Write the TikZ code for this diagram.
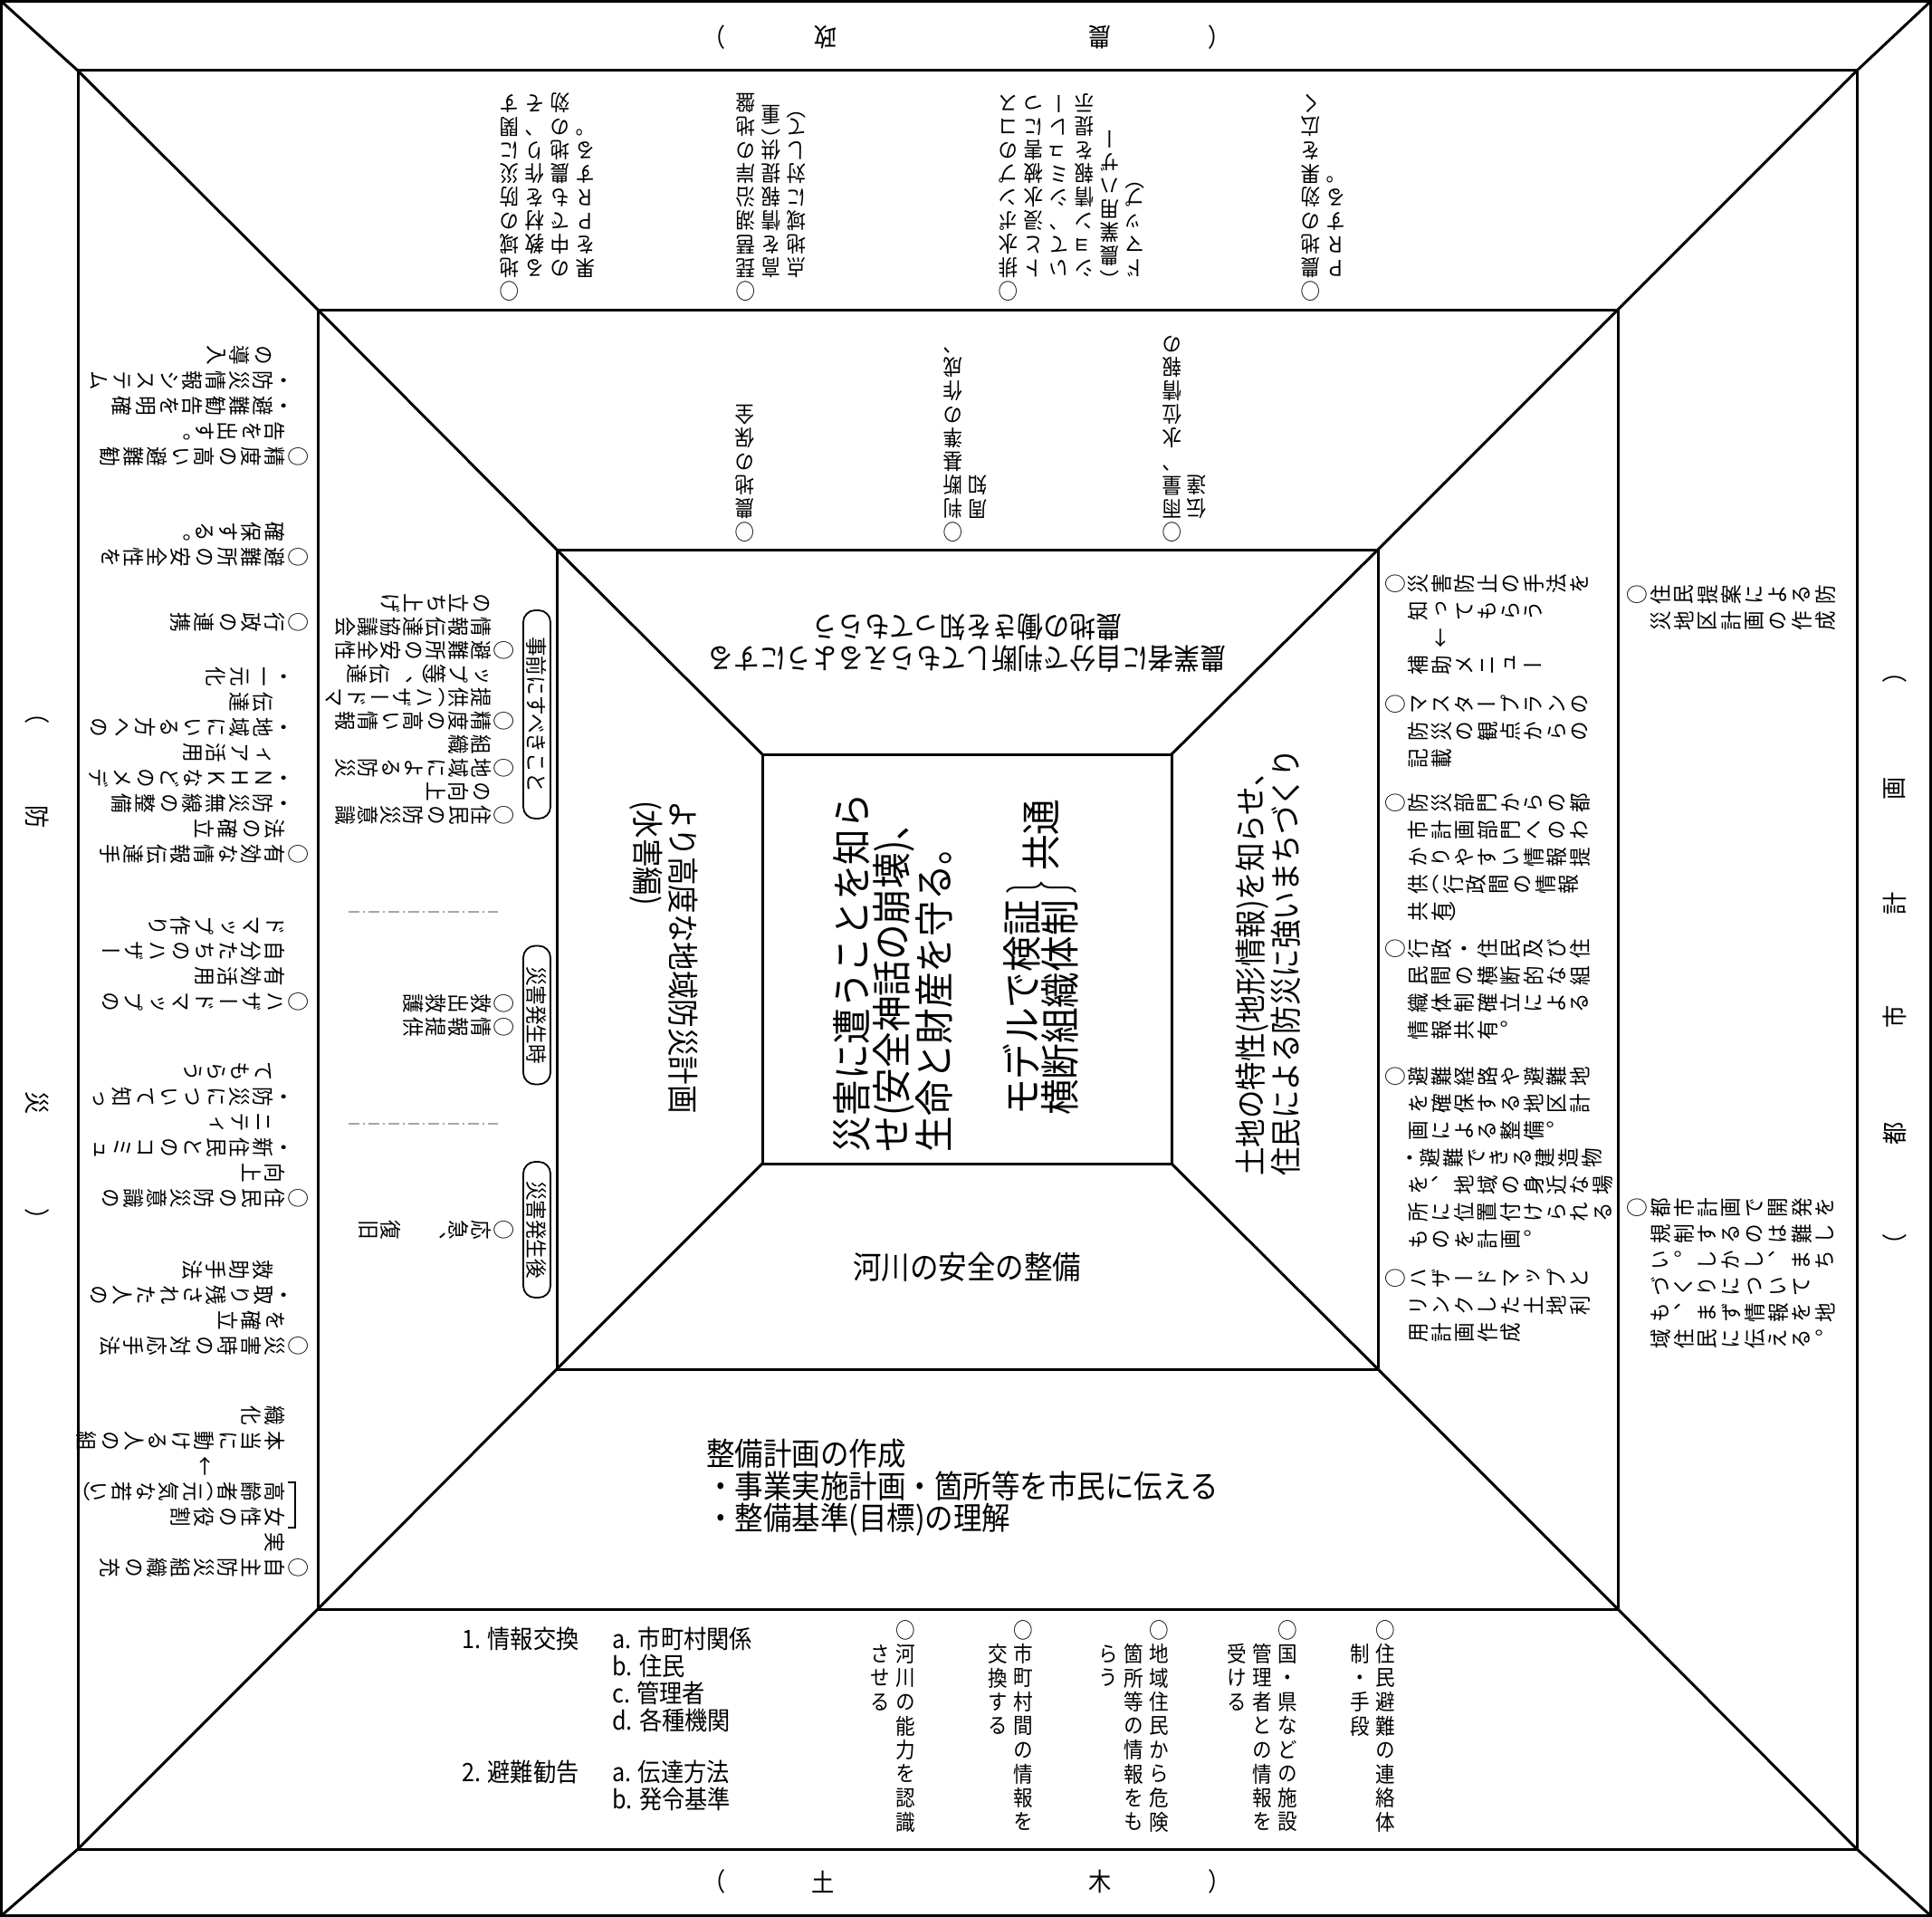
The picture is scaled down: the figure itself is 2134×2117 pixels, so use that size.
\documentclass[tikz,border=0pt]{standalone}
\usepackage{fontspec}
\usetikzlibrary{decorations.pathreplacing}
\newfontfamily\jp[FakeStretch=0.9]{Noto Sans CJK JP}
\newfontfamily\jpv[FakeStretch=0.9,RawFeature={+vert}]{Noto Sans CJK JP}
\newdimen\tp \newdimen\tw
\tp=26pt \tw=28pt
\ExplSyntaxOn
\cs_new_protected:Npn \tate_full:n #1
  {
    \hbox_to_wd:nn { \tw }
      { \hss \vbox_to_ht:nn { \tp } { \vss \hbox:n { \vphantom{国} #1 } \vss } \hss }
  }
\cs_new_protected:Npn \tate_half:n #1
  {
    \hbox_to_wd:nn { \tw }
      { \hss \vbox_to_ht:nn { 0.5\tp } { \vss \hbox:n { #1 } \vss } \hss }
  }
\cs_new_protected:Npn \tate_blank:
  { \hbox_to_wd:nn { \tw } { \vbox_to_ht:nn { 0.5\tp } { \vss } \hss } }
\NewDocumentCommand \tcol { m }
  {
    \vtop
      {
        \offinterlineskip
        \hbox:n { }
        \tl_map_inline:nn { #1 }
          {
            \str_case:nnF { ##1 }
              {
                { ･ } { \tate_half:n { ・ } }
                { （ } { \tate_half:n { （ } }
                { ） } { \tate_half:n { ） } }
                { ＿ } { \tate_blank: }
              }
              { \tate_full:n { ##1 } }
          }
      }
  }
\NewDocumentCommand \tblock { m }
  {
    \seq_set_split:Nnn \l_tmpa_seq { | } { #1 }
    \seq_reverse:N \l_tmpa_seq
    \hbox:n { \seq_map_inline:Nn \l_tmpa_seq { \tcol { ##1 } } }
  }
\ExplSyntaxOff
\newcommand\TB[3]{\tp=#1pt\relax\tw=#2pt\relax\tblock{#3}}
\tikzset{
  ln/.style={line width=3pt},
  tate/.style={inner sep=0pt, font=\jpv\fontsize{24}{24}\selectfont},
  inv/.style={anchor=north east, rotate=180},
  upr/.style={anchor=north east},
  cw/.style={anchor=north east, rotate=-90},
  ccw/.style={anchor=north east, rotate=90},
  lbl/.style={inner sep=0pt, font=\jp\fontsize{28}{28}\selectfont},
  hz/.style={inner sep=0pt, anchor=west, font=\jp\fontsize{28}{30}\selectfont},
  mid/.style={inner sep=0pt, align=left, font=\jp\fontsize{35}{39}\selectfont},
  big/.style={inner sep=0pt, align=left, font=\jp\fontsize{44}{44}\selectfont},
  tag/.style={draw, line width=1.8pt, rounded corners=13pt, inner sep=0pt, rotate=-90,
              minimum height=30pt, font=\jp\fontsize{24}{24}\selectfont},
  sep/.style={gray!70, line width=1.3pt, dash pattern=on 12pt off 4pt on 2pt off 4pt},
}
\begin{document}
\begin{tikzpicture}[x=1pt,y=-1pt]
\useasboundingbox (0,0) rectangle (2134,2117);
% ---------- frame ----------
\coordinate (O1) at (1.5,1.5);   \coordinate (O2) at (2132.5,1.5);
\coordinate (O3) at (2132.5,2115.5); \coordinate (O4) at (1.5,2115.5);
\coordinate (A1) at (86,78);   \coordinate (A2) at (2051,78);
\coordinate (A3) at (2051,2042); \coordinate (A4) at (86,2042);
\coordinate (B1) at (351,342); \coordinate (B2) at (1787,342);
\coordinate (B3) at (1787,1777); \coordinate (B4) at (351,1777);
\coordinate (C1) at (615,607); \coordinate (C2) at (1522,607);
\coordinate (C3) at (1522,1512); \coordinate (C4) at (615,1512);
\coordinate (D1) at (842,833); \coordinate (D2) at (1294,833);
\coordinate (D3) at (1294,1285); \coordinate (D4) at (842,1285);
\draw[ln] (O1) -- (O2) -- (O3) -- (O4) -- cycle;
\draw[ln] (A1) -- (A2) -- (A3) -- (A4) -- cycle;
\draw[ln] (B1) -- (B2) -- (B3) -- (B4) -- cycle;
\draw[ln] (C1) -- (C2) -- (C3) -- (C4) -- cycle;
\draw[ln] (D1) -- (D2) -- (D3) -- (D4) -- cycle;
\draw[ln] (O1) -- (A1) -- (B1) -- (C1) -- (D1);
\draw[ln] (O2) -- (A2) -- (B2) -- (C2) -- (D2);
\draw[ln] (O3) -- (A3) -- (B3) -- (C3) -- (D3);
\draw[ln] (O4) -- (A4) -- (B4) -- (C4) -- (D4);
% ---------- outer labels ----------
\node[lbl,rotate=180] (lt1) at (1347,41) {（};
\node[lbl,rotate=180] (lt2) at (1215,41) {農};
\node[lbl,rotate=180] (lt3) at (912,41) {政};
\node[lbl,rotate=180] (lt4) at (789,41) {）};
\node[lbl] (lb1) at (789,2078) {（};
\node[lbl] (lb2) at (909,2078) {土};
\node[lbl] (lb3) at (1215,2078) {木};
\node[lbl] (lb4) at (1347,2078) {）};
\node[lbl,rotate=-90] (ll1) at (41,787) {（};
\node[lbl,rotate=-90] (ll2) at (41,902) {防};
\node[lbl,rotate=-90] (ll3) at (41,1218) {災};
\node[lbl,rotate=-90] (ll4) at (41,1347) {）};
\node[lbl,rotate=90] (lr1) at (2093,1375) {（};
\node[lbl,rotate=90] (lr2) at (2093,1252) {都};
\node[lbl,rotate=90] (lr3) at (2093,1123) {市};
\node[lbl,rotate=90] (lr4) at (2093,998) {計};
\node[lbl,rotate=90] (lr5) at (2093,871) {画};
\node[lbl,rotate=90] (lr6) at (2093,742) {）};
% ---------- ring 2 top (upside down) ----------
\node[tate,inv] (t1) at (548,335) {\TB{26}{28}{○地域の防災に関す|　る教材を作り、そ|　の中でも農地の効|　果をＰＲする。}};
\node[tate,inv] (t2) at (809,335) {\TB{26}{28}{○琵琶湖沿岸の地盤|　高を情報提供（重|　点地域に対して）}};
\node[tate,inv] (t3) at (1099,335) {\TB{26}{28}{○排水ポンプのコス|　トと浸水被害につ|　いて、シミュレー|　ション情報を提示|　（農業用ハザー|　ドマップ）}};
\node[tate,inv] (t4) at (1433,335) {\TB{26}{28}{○農地の効果を広く|　ＰＲする。}};
% ---------- ring 3 top ----------
\node[tate,inv] (u1) at (808.5,601) {\TB{26}{27}{○農地の保全}};
\node[tate,inv] (u2) at (1038.5,601) {\TB{26}{27}{○判断基準の作成、|　周知}};
\node[tate,inv] (u3) at (1280.5,601) {\TB{26}{27}{○雨量、水位情報の|　伝達}};
% ---------- ring 2 bottom ----------
\node[tate,upr] (b1) at (1014,1786.75) {\TB{26.5}{28}{○河川の能力を認識|　させる}};
\node[tate,upr] (b2) at (1144,1786.75) {\TB{26.5}{28}{○市町村間の情報を|　交換する}};
\node[tate,upr] (b3) at (1294,1786.75) {\TB{26.5}{28}{○地域住民から危険|　箇所等の情報をも|　らう}};
\node[tate,upr] (b4) at (1436,1786.75) {\TB{26.5}{28}{○国・県などの施設|　管理者との情報を|　受ける}};
\node[tate,upr] (b5) at (1544,1786.75) {\TB{26.5}{28}{○住民避難の連絡体|　制・手段}};
\node[hz] (h1) at (510,1810) {1. 情報交換};
\node[hz] (h2) at (676,1810) {a. 市町村関係};
\node[hz] (h3) at (676,1840) {b. 住民};
\node[hz] (h4) at (676,1870) {c. 管理者};
\node[hz] (h5) at (676,1900) {d. 各種機関};
\node[hz] (h6) at (510,1957) {2. 避難勧告};
\node[hz] (h7) at (676,1957) {a. 伝達方法};
\node[hz] (h8) at (676,1987) {b. 発令基準};
% ---------- ring 2 left ----------
\node[tate,cw] (l1) at (343,518) {\TB{26}{28}{○精度の高い避難勧|　告を出す。|　･避難勧告を明確|　･防災情報システム|　＿の導入}};
\node[tate,cw] (l2) at (343,629) {\TB{26}{28}{○避難所の安全性を|　確保する。}};
\node[tate,cw] (l3) at (343,701) {\TB{26}{28}{○行政の連携}};
\node[tate,cw] (l4) at (343,957) {\TB{26}{28}{○有効な情報伝達手|　法の確立|　･防災無線の整備|　･ＮＨＫなどのメデ|　＿ィア活用|　･地域にいる方への|　＿伝達|　･一元化}};
\node[tate,cw] (l5) at (343,1120) {\TB{26}{28}{○ハザードマップの|　有効活用|　自分たちのハザー|　ドマップ作り}};
\node[tate,cw] (l6) at (343,1337) {\TB{26}{28}{○住民の防災意識の|　向上|　･新住民とのコミュ|　＿ニティ|　･防災について知っ|　＿てもらう}};
\node[tate,cw] (l7) at (343,1500) {\TB{26}{28}{○災害時の対応手法|　を確立|　･取り残された人の|　＿救助手法}};
\node[tate,cw] (l8) at (343,1745) {\TB{26}{28}{○自主防災組織の充|　実|　女性の役割|　高齢者（元気な若い）|　　　　←|　本当に動ける人の組|　織化}};
\coordinate (k1) at (318,1637); \coordinate (k2) at (326,1637);
\coordinate (k3) at (326,1687); \coordinate (k4) at (318,1687);
\draw[line width=1.5pt] (k1) -- (k2) -- (k3) -- (k4);
% ---------- ring 2 right ----------
\node[tate,ccw] (r1) at (1795,641.5) {\TB{26}{29}{○住民提案による防|　災地区計画の作成}};
\node[tate,ccw] (r2) at (1795,1318.5) {\TB{26}{29}{○都市計画で開発を|　規制するのは難し|　い。しかし、まち|　づくりについて|　も、まず情報を地|　域住民に伝える。}};
% ---------- ring 3 left ----------
\node[tag,minimum width=230pt] (g1) at (593,789) {事前にすべきこと};
\node[tag,minimum width=153pt] (g2) at (593,1121) {災害発生時};
\node[tag,minimum width=150pt] (g3) at (593,1358) {災害発生後};
\node[tate,cw] (s1) at (569.5,913) {\TB{25}{26}{○住民の防災意識|　の向上}};
\node[tate,cw] (s2) at (569.5,861) {\TB{25}{26}{○地域による防災|　組織}};
\node[tate,cw] (s3) at (569.5,809) {\TB{25}{26}{○精度の高い情報|　提供（ハザードマ|　ップ等）、伝達}};
\node[tate,cw] (s4) at (569.5,731) {\TB{25}{26}{○避難所の安全性|　情報伝達協議会|　の立ち上げ}};
\node[tate,cw] (s5) at (569.5,1147) {\TB{25}{26}{○情報提供|○救出救護}};
\node[tate,cw] (s6) at (569.5,1371) {\TB{25}{26}{○応急、　復旧}};
\coordinate (d1) at (385,1007); \coordinate (d2) at (550,1007);
\coordinate (d3) at (385,1241); \coordinate (d4) at (550,1241);
\draw[sep] (d1) -- (d2);
\draw[sep] (d3) -- (d4);
% ---------- ring 3 right ----------
\node[tate,ccw] (q1) at (1528.25,629) {\TB{25.5}{30}{○災害防止の手法を|　知ってもらう|　　←|　補助メニュー}};
\node[tate,ccw] (q2) at (1528.25,762) {\TB{25.5}{30}{○マスタープランの|　防災の観点からの|　記載}};
\node[tate,ccw] (q3) at (1528.25,871) {\TB{25.5}{30}{○防災部門からの都|　市計画部門へのわ|　かりやすい情報提|　供（行政間の情報|　共有）}};
\node[tate,ccw] (q4) at (1528.25,1032) {\TB{25.5}{30}{○行政・住民及び住|　民間の横断的な組|　織体制確立による|　情報共有。}};
\node[tate,ccw] (q5) at (1528.25,1173) {\TB{25.5}{30}{○避難経路や避難地|　を確保する地区計|　画による整備。|　･避難できる建造物|　を、地域の身近な場|　所に位置付けられる|　ものを計画。}};
\node[tate,ccw] (q6) at (1528.25,1396) {\TB{25.5}{30}{○ハザードマップと|　リンクした土地利|　用計画作成}};
% ---------- ring 3 bottom ----------
\node[inner sep=0pt, anchor=north west, align=left, font=\jp\fontsize{35}{35.5}\selectfont] (m1) at (780,1589)
  {整備計画の作成\\・事業実施計画・箇所等を市民に伝える\\・整備基準(目標)の理解};
% ---------- ring 4 ----------
\node[mid,rotate=180,align=center,font=\jp\fontsize{32}{35}\selectfont] (i1) at (1068,710)
  {農業者に自分で判断してもらえるようにする\\農地の働きを知ってもらう};
\node[mid,rotate=-90] (i2) at (733,1057) {より高度な地域防災計画\\(水害編)};
\node[mid,rotate=90] (i3) at (1401,1063) {土地の特性(地形情報)を知らせ、\\住民による防災に強いまちづくり};
\node[mid] (i4) at (1068,1399) {河川の安全の整備};
% ---------- center ----------
\node[big,rotate=90] (c1) at (986,1074) {災害に遭うことを知ら\\せ(安全神話の崩壊)、\\生命と財産を守る。};
\node[big,rotate=90,font=\jp\fontsize{44}{40}\selectfont] (c2) at (1150,1113) {モデルで検証\\横断組織体制};
\coordinate (brA) at (1112,985); \coordinate (brB) at (1188,985);
\draw[decorate,decoration={brace,amplitude=10pt},line width=2pt] (brA) -- (brB);
\node[big,rotate=90] (c3) at (1150,922) {共通};
\end{tikzpicture}
\end{document}
